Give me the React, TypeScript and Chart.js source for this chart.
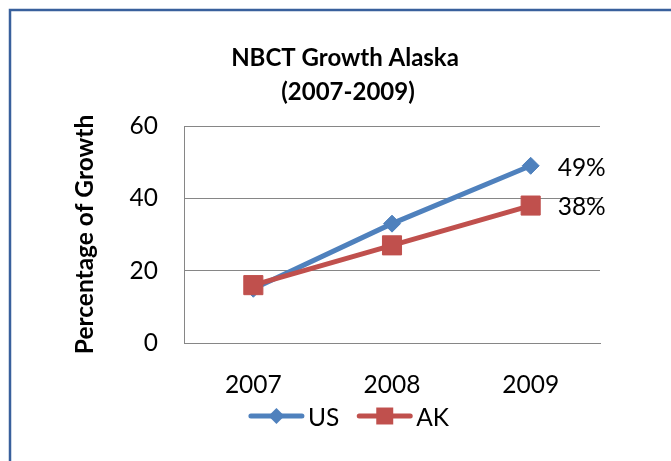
import React, { useEffect, useRef } from 'react';
import { Chart, registerables } from 'chart.js';

Chart.register(...registerables);

const categories = ['2007', '2008', '2009'];
const usValues = [15, 33, 49];
const akValues = [16, 27, 38];
const seriesNames = ['US', 'AK'];
const titleLines = ['NBCT Growth Alaska', '(2007-2009)'];
const yAxisTitle = 'Percentage of Growth';
const yMin = 0;
const yMax = 60;
const yStep = 20;

const FONT = 'Lato, "Noto Sans", sans-serif';
const FS = 24.5;
const US_COLOR = '#4F81BD';
const AK_COLOR = '#C0504D';
const GRID = '#868686';

const W = 671;
const H = 461;

function drawMarker(ctx: CanvasRenderingContext2D, style: string, x: number, y: number, r: number, color: string) {
  ctx.save();
  ctx.fillStyle = color;
  ctx.beginPath();
  if (style === 'rectRot') {
    ctx.moveTo(x - r, y);
    ctx.lineTo(x, y - r);
    ctx.lineTo(x + r, y);
    ctx.lineTo(x, y + r);
    ctx.closePath();
  } else {
    const s = r * Math.SQRT1_2;
    ctx.rect(x - s, y - s, 2 * s, 2 * s);
  }
  ctx.fill();
  ctx.restore();
}

const decorPlugin = {
  id: 'decor',
  beforeDraw(chart: any) {
    const ctx = chart.ctx as CanvasRenderingContext2D;
    ctx.save();
    ctx.fillStyle = '#ffffff';
    ctx.fillRect(0, 0, W, H);
    ctx.strokeStyle = '#38609C';
    ctx.lineWidth = 2.5;
    ctx.beginPath();
    ctx.moveTo(10, H + 5);
    ctx.lineTo(10, 10);
    ctx.lineTo(W + 5, 10);
    ctx.stroke();
    // title
    ctx.fillStyle = '#000000';
    ctx.font = `bold 24px ${FONT}`;
    ctx.textAlign = 'center';
    ctx.textBaseline = 'middle';
    ctx.fillText(titleLines[0], 345, 58);
    ctx.fillText(titleLines[1], 348, 92);
    ctx.restore();
  },
  afterDatasetsDraw(chart: any) {
    const ctx = chart.ctx as CanvasRenderingContext2D;
    ctx.save();
    ctx.font = `${FS}px ${FONT}`;
    ctx.fillStyle = '#000000';
    ctx.textAlign = 'left';
    ctx.textBaseline = 'middle';
    chart.data.datasets.forEach((ds: any, i: number) => {
      const meta = chart.getDatasetMeta(i);
      const last = meta.data.length - 1;
      const pt = meta.data[last];
      ctx.fillText(`${ds.data[last]}%`, pt.x + 27, pt.y + 2);
    });
    // legend
    const lineLen = 55;
    const gapText = 4;
    const gapItem = 18;
    const items = chart.data.datasets.map((ds: any) => ({
      label: ds.label,
      color: ds.borderColor,
      style: ds.pointStyle,
      r: ds.legendRadius,
      tw: ctx.measureText(ds.label).width,
    }));
    let total = 0;
    items.forEach((it: any, i: number) => {
      total += lineLen + gapText + it.tw + (i < items.length - 1 ? gapItem : 0);
    });
    let x = 349 - total / 2;
    const y = 416;
    items.forEach((it: any) => {
      ctx.strokeStyle = it.color;
      ctx.lineWidth = 5;
      ctx.lineCap = 'round';
      ctx.beginPath();
      ctx.moveTo(x + 2, y);
      ctx.lineTo(x + lineLen - 2, y);
      ctx.stroke();
      drawMarker(ctx, it.style, x + lineLen / 2, y, it.r, it.color);
      ctx.fillStyle = '#000000';
      ctx.fillText(it.label, x + lineLen + gapText, y + 2);
      x += lineLen + gapText + it.tw + gapItem;
    });
    ctx.restore();
  },
};

export default function App() {
  const ref = useRef<HTMLCanvasElement | null>(null);
  useEffect(() => {
    if (!ref.current) return;
    const chart = new Chart(ref.current, {
      type: 'line',
      data: {
        labels: categories,
        datasets: [
          {
            label: seriesNames[0],
            data: usValues,
            borderColor: US_COLOR,
            backgroundColor: US_COLOR,
            borderWidth: 5,
            pointStyle: 'rectRot',
            pointRadius: 8.5,
            pointBorderWidth: 1,
            pointBackgroundColor: US_COLOR,
            pointBorderColor: US_COLOR,
            tension: 0,
            order: 1,
            legendRadius: 8,
          } as any,
          {
            label: seriesNames[1],
            data: akValues,
            borderColor: AK_COLOR,
            backgroundColor: AK_COLOR,
            borderWidth: 5,
            pointStyle: 'rect',
            pointRadius: 13.5,
            pointBorderWidth: 1,
            pointBackgroundColor: AK_COLOR,
            pointBorderColor: AK_COLOR,
            tension: 0,
            order: 0,
            legendRadius: 12,
          } as any,
        ],
      },
      options: {
        responsive: false,
        animation: false,
        layout: { padding: { top: 126, right: 71, bottom: 58, left: 0 } },
        plugins: {
          legend: { display: false },
          title: { display: false },
          tooltip: { enabled: false },
        },
        scales: {
          x: {
            offset: true,
            grid: { display: false, drawTicks: false },
            border: { display: true, color: GRID, width: 1 },
            ticks: { color: '#000', font: { family: FONT, size: FS }, padding: 27 },
            afterFit: (s: any) => { s.height = 60; },
          },
          y: {
            min: yMin,
            max: yMax,
            grid: { color: GRID, lineWidth: 1, drawTicks: false },
            border: { display: true, color: GRID, width: 1 },
            ticks: { stepSize: yStep, color: '#000', font: { family: FONT, size: FS }, padding: 26 },
            title: {
              display: true,
              text: yAxisTitle,
              color: '#000',
              font: { family: FONT, size: FS, weight: 'bold' },
              padding: { top: 70, bottom: 0 },
            },
            afterFit: (s: any) => { s.width = 184; },
          },
        },
      },
      plugins: [decorPlugin],
    });
    return () => chart.destroy();
  }, []);
  return (
    <div style={{ position: 'fixed', left: 0, top: 0, width: W, height: H }}>
      <canvas ref={ref} width={W} height={H} style={{ display: 'block', width: W, height: H }} />
    </div>
  );
}
